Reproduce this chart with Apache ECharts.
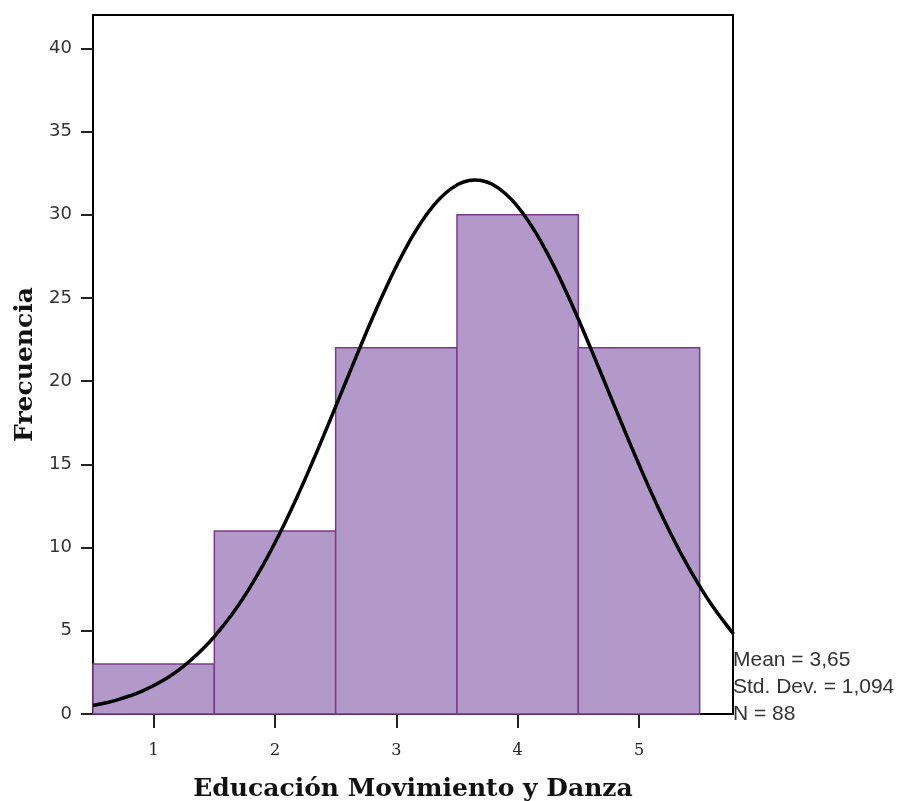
<!DOCTYPE html>
<html><head><meta charset="utf-8">
<script src="https://cdn.jsdelivr.net/npm/echarts@6/dist/echarts.min.js"></script>
<style>html,body{margin:0;padding:0;background:#fff}#c{width:903px;height:801px}</style>
</head><body><div id="c"></div>
<script>
// Histogram bins (centers) and frequencies
const binCenters = [1, 2, 3, 4, 5];
const frequencies = [3, 11, 22, 30, 22];
// Normal curve
const curveX = [0.5,0.6,0.7,0.8,0.9,1.0,1.1,1.2,1.3,1.4,1.5,1.6,1.7,1.8,1.9,2.0,2.1,2.2,2.3,2.4,2.5,2.6,2.7,2.8,2.9,3.0,3.1,3.2,3.3,3.4,3.5,3.6,3.65,3.7,3.8,3.9,4.0,4.1,4.2,4.3,4.4,4.5,4.6,4.7,4.8,4.9,5.0,5.1,5.2,5.3,5.4,5.5,5.6,5.7,5.78];
const curveY = [0.51,0.66,0.85,1.08,1.36,1.71,2.12,2.61,3.2,3.87,4.65,5.55,6.55,7.68,8.93,10.29,11.76,13.33,14.99,16.71,18.47,20.25,22.01,23.73,25.37,26.9,28.28,29.49,30.49,31.26,31.79,32.06,32.09,32.06,31.79,31.26,30.49,29.49,28.28,26.9,25.37,23.73,22.01,20.25,18.47,16.71,14.99,13.33,11.76,10.29,8.93,7.68,6.55,5.55,4.8];
const yTicks = [0, 5, 10, 15, 20, 25, 30, 35, 40];
const xTicks = [1, 2, 3, 4, 5];
const statLines = ['Mean = 3,65', 'Std. Dev. = 1,094', 'N = 88'];
const xTitle = 'Educación Movimiento y Danza';
const yTitle = 'Frecuencia';

const chart = echarts.init(document.getElementById('c'));
const barData = binCenters.map((c, i) => [c, frequencies[i]]);
const lineData = curveX.map((x, i) => [x, curveY[i]]);

chart.setOption({
  animation: false,
  grid: { left: 93, right: 170, top: 15, bottom: 87, outerBoundsMode: 'none', containLabel: false,
          show: true, borderColor: '#000', borderWidth: 2, backgroundColor: '#fff' },
  xAxis: {
    type: 'value', min: 0.5, max: 5.775,
    name: xTitle, nameLocation: 'middle', nameGap: 63,
    nameTextStyle: { fontFamily: 'DejaVu Serif', fontWeight: 'bold', fontSize: 25, color: '#111' },
    axisLine: { show: true, lineStyle: { color: '#000', width: 2 } },
    axisTick: { show: true, length: 14, customValues: xTicks, lineStyle: { color: '#222', width: 2 } },
    axisLabel: { customValues: xTicks, margin: 29, fontFamily: 'DejaVu Serif', fontSize: 16, color: '#222' },
    splitLine: { show: false }
  },
  yAxis: {
    type: 'value', min: 0, max: 42,
    name: yTitle, nameLocation: 'middle', nameGap: 52,
    nameTextStyle: { fontFamily: 'DejaVu Serif', fontWeight: 'bold', fontSize: 25, color: '#111' },
    axisLine: { show: true, lineStyle: { color: '#000', width: 2 } },
    axisTick: { show: true, length: 12, customValues: yTicks, lineStyle: { color: '#222', width: 2 } },
    axisLabel: { customValues: yTicks, margin: 21, fontFamily: 'DejaVu Sans', fontSize: 18, color: '#333' },
    splitLine: { show: false }
  },
  series: [
    {
      type: 'custom',
      data: barData,
      renderItem: function (params, api) {
        const c = api.value(0), v = api.value(1);
        const p0 = api.coord([c - 0.5, 0]);
        const p1 = api.coord([c + 0.5, v]);
        return {
          type: 'rect',
          shape: { x: p0[0], y: p1[1], width: p1[0] - p0[0], height: p0[1] - p1[1] },
          style: { fill: '#b399ca', stroke: '#7d3a88', lineWidth: 1.5 }
        };
      },
      z: 2
    },
    {
      type: 'line', data: lineData, showSymbol: false, smooth: true,
      lineStyle: { color: '#000', width: 3.5 }, clip: true, z: 3
    }
  ],
  graphic: statLines.map((t, i) => ({
    type: 'text', left: 733, top: 650 + i * 27,
    style: { text: t, fontFamily: 'Liberation Sans', fontSize: 21, fill: '#333' }
  }))
});
</script></body></html>
